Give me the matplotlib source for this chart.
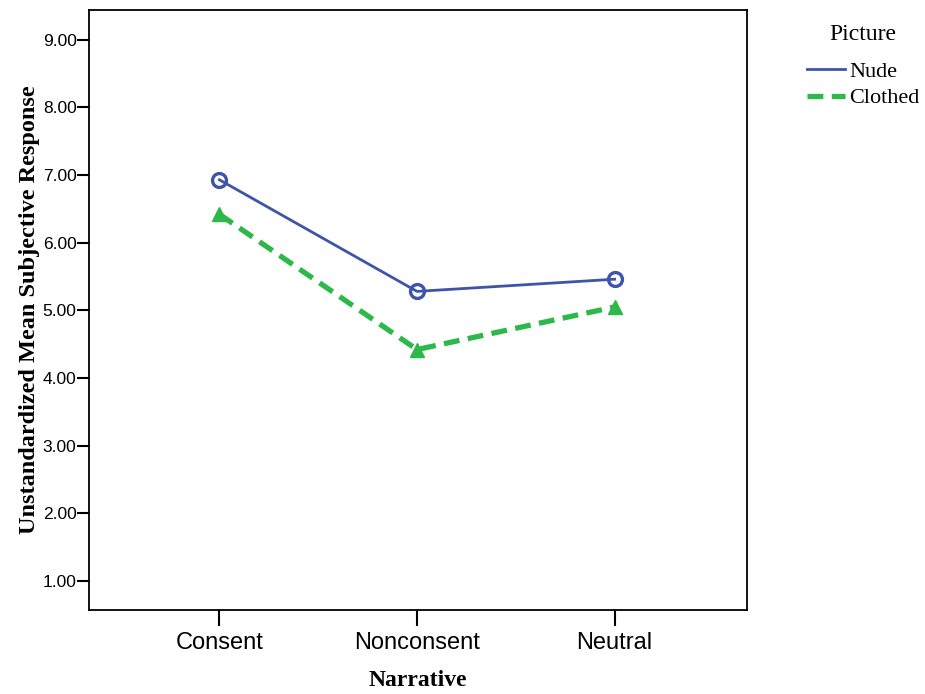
import matplotlib
matplotlib.use("Agg")
import matplotlib.pyplot as plt
from matplotlib.lines import Line2D

categories = ["Consent", "Nonconsent", "Neutral"]
nude = [6.93, 5.28, 5.46]
clothed = [6.42, 4.42, 5.05]
yticks = [1, 2, 3, 4, 5, 6, 7, 8, 9]

fig = plt.figure(figsize=(9.25, 6.94), dpi=100)
ax = fig.add_axes([89/925, 1 - 610/694, (747-89)/925, (610-10)/694])

x = list(range(len(categories)))
blue = "#3d55a8"
green = "#2db84a"
ax.plot(x, nude, color=blue, lw=2, marker="o", ms=10, mfc="none", mec=blue, mew=2.4)
ax.plot(x, clothed, color=green, lw=3.8, ls=(0, (3, 1.6)), marker="^", ms=10, mfc=green, mec=green)

ax.set_xlim(-0.66, 2.67)
ax.set_ylim(0.57, 9.44)
ax.set_xticks(x)
ax.set_xticklabels(categories, fontfamily="Liberation Sans", fontsize=17)
ax.set_yticks(yticks)
ax.set_yticklabels([f"{v:.2f}" for v in yticks], fontfamily="Liberation Sans", fontsize=12.5)
ax.tick_params(axis="x", length=11.5, width=1.5, pad=4)
ax.tick_params(axis="y", length=8.5, width=1.5, pad=0.5)
for s in ax.spines.values():
    s.set_linewidth(1.3)

ax.set_xlabel("Narrative", fontfamily="Liberation Serif", fontweight="bold", fontsize=17, labelpad=12)
ax.set_ylabel("Unstandardized Mean Subjective Response", fontfamily="Liberation Serif",
              fontweight="bold", fontsize=17.5, labelpad=2)

handles = [Line2D([], [], color=blue, lw=2),
           Line2D([], [], color=green, lw=3.8, ls=(0, (3, 1.6)))]
leg = fig.legend(handles, ["Nude", "Clothed"], title="Picture", loc="upper left",
                 bbox_to_anchor=(807/925, 1 - 24/694), frameon=False,
                 prop={"family": "Liberation Serif", "size": 16},
                 handlelength=1.7, handletextpad=0.2, labelspacing=0.25, borderpad=0,
                 borderaxespad=0)
leg.get_title().set_fontfamily("Liberation Serif")
leg.get_title().set_fontsize(17)
leg._legend_box.sep = 12

fig.savefig("out.png", dpi=100)
